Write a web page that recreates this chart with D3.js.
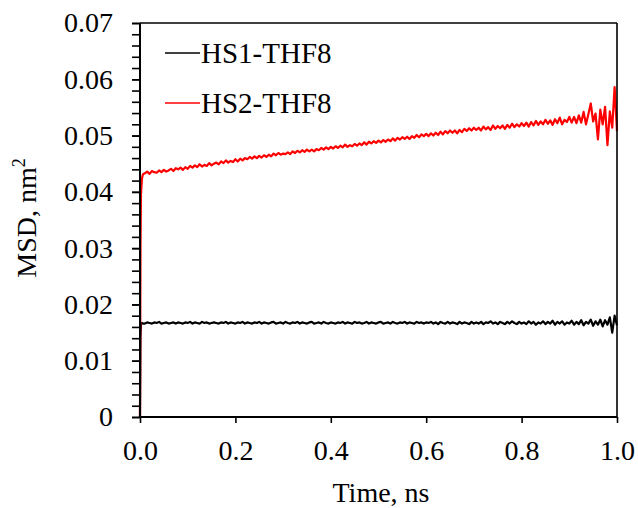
<!DOCTYPE html>
<html lang="en">
<head>
    <meta charset="UTF-8">
    <title>MSD vs time</title>
    <style>
    body {
        margin: 0;
        background: #fff;
        font-family: "Liberation Serif", "Times New Roman", serif;
    }
    svg {
        width: 638px;
        height: 508px;
        display: block;
    }
    .axis text {
        font-family: "Liberation Serif", "Times New Roman", serif;
        font-size: 28px;
        fill: #000;
    }
    .axis path, .axis line {
        stroke: #000;
    }
    .label {
        font-family: "Liberation Serif", "Times New Roman", serif;
        font-size: 28px;
        fill: #000;
    }
    .legend-text {
        font-family: "Liberation Serif", "Times New Roman", serif;
        font-size: 29px;
        fill: #000;
    }
    </style>
</head>
<body>
    <div id="chart"></div>
    <script src="https://d3js.org/d3.v7.min.js"></script>
    <script>
        // values in units of 1e-3 nm^2
        var seriesNames = ["HS1-THF8", "HS2-THF8"];
        var seriesColors = ["#000000", "#ff0000"];

        // first few points (very fast initial rise)
        var earlyTime = [0, 0.001, 0.002, 0.004, 0.006];
        var hs1Early = [0, 14.0, 16.5, 16.7, 16.6];
        var hs2Early = [0, 30.0, 39.5, 42.3, 43.1];

        // then one point every 0.005 ns from 0.010 to 1.000
        var stepStart = 0.01, stepSize = 0.005;

        var hs1Values = [
            16.6, 16.8, 16.7, 16.6, 16.8, 16.7, 16.9, 16.6, 16.7, 16.8,
            16.6, 16.7, 16.8, 16.6, 16.8, 16.7, 16.6, 16.8, 16.7, 16.9,
            16.6, 16.8, 16.7, 16.6, 16.9, 16.7, 16.8, 16.6, 16.7, 16.8,
            16.7, 16.6, 16.8, 16.7, 16.9, 16.6, 16.8, 16.7, 16.6, 16.8,
            16.7, 16.9, 16.6, 16.8, 16.7, 16.6, 16.8, 16.7, 16.9, 16.6,
            16.8, 16.7, 16.6, 16.8, 16.9, 16.6, 16.7, 16.8, 16.6, 16.9,
            16.7, 16.6, 16.8, 16.7, 16.9, 16.6, 16.8, 16.7, 16.6, 16.8,
            16.9, 16.6, 16.7, 16.8, 16.6, 16.9, 16.7, 16.6, 16.8, 16.7,
            16.6, 16.8, 16.7, 16.9, 16.6, 16.8, 16.7, 16.6, 16.9, 16.7,
            16.8, 16.6, 16.7, 16.9, 16.6, 16.8, 16.7, 16.6, 16.8, 16.9,
            16.6, 16.7, 16.8, 16.6, 16.9, 16.7, 16.6, 16.8, 16.7, 16.9,
            16.6, 16.8, 16.7, 16.6, 16.9, 16.7, 16.8, 16.6, 16.8, 16.7,
            16.9, 16.6, 16.8, 16.5, 16.9, 16.7, 16.6, 16.9, 16.6, 16.8,
            16.7, 16.5, 16.9, 16.6, 16.8, 16.7, 16.5, 16.9, 16.6, 16.8,
            16.6, 16.9, 16.5, 16.8, 16.7, 17.0, 16.6, 16.8, 16.5, 16.9,
            16.7, 16.5, 16.9, 16.6, 17.0, 16.7, 16.5, 16.9, 16.6, 16.8,
            16.5, 17.0, 16.6, 16.9, 16.4, 16.8, 16.6, 17.0, 16.5, 16.9,
            16.6, 17.1, 16.4, 16.9, 16.6, 17.0, 16.4, 16.8, 16.6, 17.1,
            16.4, 16.9, 16.5, 17.2, 16.3, 16.9, 16.6, 17.3, 16.2, 17.0,
            16.4, 17.3, 16.1, 17.2, 16.4, 17.7, 15.0, 18.0, 16.3
        ];

        var hs2Values = [
            43.3, 43.6, 43.2, 43.7, 43.5, 43.4, 43.8, 43.5, 43.9, 43.6,
            43.8, 44.1, 43.7, 44.2, 44.0, 44.3, 43.9, 44.4, 44.1, 44.6,
            44.3, 44.7, 44.4, 44.9, 44.5, 44.8, 44.6, 45.1, 44.7, 45.0,
            45.2, 44.9, 45.4, 45.1, 45.6, 45.2, 45.5, 45.3, 45.8, 45.4,
            45.9, 45.6, 46.0, 45.8, 46.2, 45.9, 46.3, 46.0, 46.4, 46.1,
            46.5, 46.2, 46.6, 46.3, 46.8, 46.5, 46.9, 46.6, 46.8, 46.7,
            47.0, 46.7, 47.2, 46.9, 47.3, 47.0, 47.4, 47.1, 47.5, 47.2,
            47.5, 47.2, 47.6, 47.4, 47.8, 47.5, 47.9, 47.6, 48.0, 47.7,
            48.1, 47.8, 48.2, 47.9, 48.4, 48.0, 48.3, 48.1, 48.5, 48.2,
            48.6, 48.3, 48.8, 48.4, 48.9, 48.6, 49.0, 48.7, 49.1, 48.8,
            49.2, 48.9, 49.3, 49.0, 49.5, 49.1, 49.6, 49.3, 49.7, 49.4,
            49.8, 49.4, 49.9, 49.6, 50.1, 49.7, 50.2, 49.9, 50.3, 49.9,
            50.4, 50.0, 50.5, 50.1, 50.7, 50.2, 50.8, 50.4, 50.9, 50.5,
            50.9, 50.4, 51.0, 50.6, 51.2, 50.8, 51.3, 50.9, 51.4, 51.0,
            51.4, 50.9, 51.6, 51.1, 51.5, 51.0, 51.8, 51.2, 51.7, 51.3,
            51.8, 51.2, 51.9, 51.4, 52.1, 51.5, 52.0, 51.6, 52.2, 51.7,
            52.3, 51.6, 52.4, 51.8, 52.6, 51.9, 52.5, 52.0, 52.8, 52.1,
            52.7, 51.9, 52.9, 52.2, 53.2, 52.0, 52.8, 52.4, 53.3, 52.3,
            53.3, 52.2, 53.6, 52.3, 54.2, 52.0, 53.8, 55.7, 52.5, 53.9,
            49.3, 54.6, 52.0, 55.1, 48.3, 54.3, 51.4, 58.6, 50.8
        ];

        var xTicks = [0, 0.2, 0.4, 0.6, 0.8, 1.0];
        var yTicks = [0, 0.01, 0.02, 0.03, 0.04, 0.05, 0.06, 0.07];
        var yMinorTicks = d3.range(0, 0.0701, 0.002);

        var plotLeft = 140, plotRight = 617, plotTop = 23, plotBottom = 417;
        var serif = "'Liberation Serif', 'Times New Roman', serif";

        var x = d3.scaleLinear().domain([0, 1]).range([plotLeft, plotRight]);
        var y = d3.scaleLinear().domain([0, 0.07]).range([plotBottom, plotTop]);

        function buildSeries(early, values) {
            var pts = early.map(function(v, i) { return [earlyTime[i], v / 1000]; });
            values.forEach(function(v, i) {
                pts.push([stepStart + i * stepSize, v / 1000]);
            });
            return pts;
        }

        var series = [buildSeries(hs1Early, hs1Values), buildSeries(hs2Early, hs2Values)];

        var svg = d3.select("#chart").append("svg")
            .attr("width", 638).attr("height", 508);

        var line = d3.line()
            .x(function(d) { return x(d[0]); })
            .y(function(d) { return y(d[1]); });

        // data lines
        svg.append("g").selectAll("path")
            .data(series)
            .enter().append("path")
            .attr("d", line)
            .attr("fill", "none")
            .attr("stroke", function(d, i) { return seriesColors[i]; })
            .attr("stroke-width", 2.2)
            .attr("stroke-linejoin", "round");

        // frame top / right
        svg.append("line")
            .attr("x1", plotLeft).attr("x2", plotRight).attr("y1", plotTop).attr("y2", plotTop)
            .attr("stroke", "#000").attr("stroke-width", 1.6);
        svg.append("line")
            .attr("x1", plotRight).attr("x2", plotRight).attr("y1", plotTop).attr("y2", plotBottom)
            .attr("stroke", "#000").attr("stroke-width", 1.6);

        // y minor ticks
        svg.append("g")
            .attr("class", "axis")
            .attr("transform", "translate(" + plotLeft + ",0)")
            .call(d3.axisLeft(y).tickValues(yMinorTicks).tickSize(8).tickFormat(""))
            .call(function(g) { g.select(".domain").remove(); })
            .selectAll("line").attr("stroke-width", 1.6);

        // y major axis
        var yAxis = svg.append("g")
            .attr("class", "axis")
            .attr("transform", "translate(" + plotLeft + ",0)")
            .call(d3.axisLeft(y).tickValues(yTicks).tickSize(8).tickPadding(19)
                .tickFormat(function(d) { return d === 0 ? "0" : d3.format(".2f")(d); }))
            .attr("font-family", serif).attr("font-size", 28);
        yAxis.select(".domain").attr("stroke-width", 2).attr("d", "M0," + plotBottom + "V" + plotTop);
        yAxis.selectAll("line").attr("stroke-width", 1.6);

        // x axis
        var xAxis = svg.append("g")
            .attr("class", "axis")
            .attr("transform", "translate(0," + plotBottom + ")")
            .call(d3.axisBottom(x).tickValues(xTicks).tickSize(6).tickPadding(17)
                .tickFormat(d3.format(".1f")))
            .attr("font-family", serif).attr("font-size", 28);
        xAxis.select(".domain").attr("stroke-width", 2).attr("d", "M" + plotLeft + ",0H" + plotRight);
        xAxis.selectAll("line").attr("stroke-width", 1.6);

        // axis titles
        svg.append("text")
            .attr("class", "label")
            .attr("x", 381)
            .attr("y", 502)
            .attr("text-anchor", "middle")
            .text("Time, ns");

        var yl = svg.append("text")
            .attr("class", "label")
            .attr("transform", "translate(36,218) rotate(-90)")
            .attr("text-anchor", "middle");
        yl.append("tspan").text("MSD, nm");
        yl.append("tspan").attr("font-size", 18).attr("dy", -11).text("2");

        // legend
        var legend = svg.append("g").selectAll("g")
            .data(seriesNames)
            .enter().append("g")
            .attr("transform", function(d, i) { return "translate(165," + (53 + i * 50) + ")"; });
        legend.append("line")
            .attr("x1", 0).attr("x2", 35)
            .attr("stroke", function(d, i) { return seriesColors[i]; })
            .attr("stroke-width", 1.6);
        legend.append("text")
            .attr("class", "legend-text")
            .attr("x", 36)
            .attr("y", 9.5)
            .text(function(d) { return d; });
    </script>
</body>
</html>
